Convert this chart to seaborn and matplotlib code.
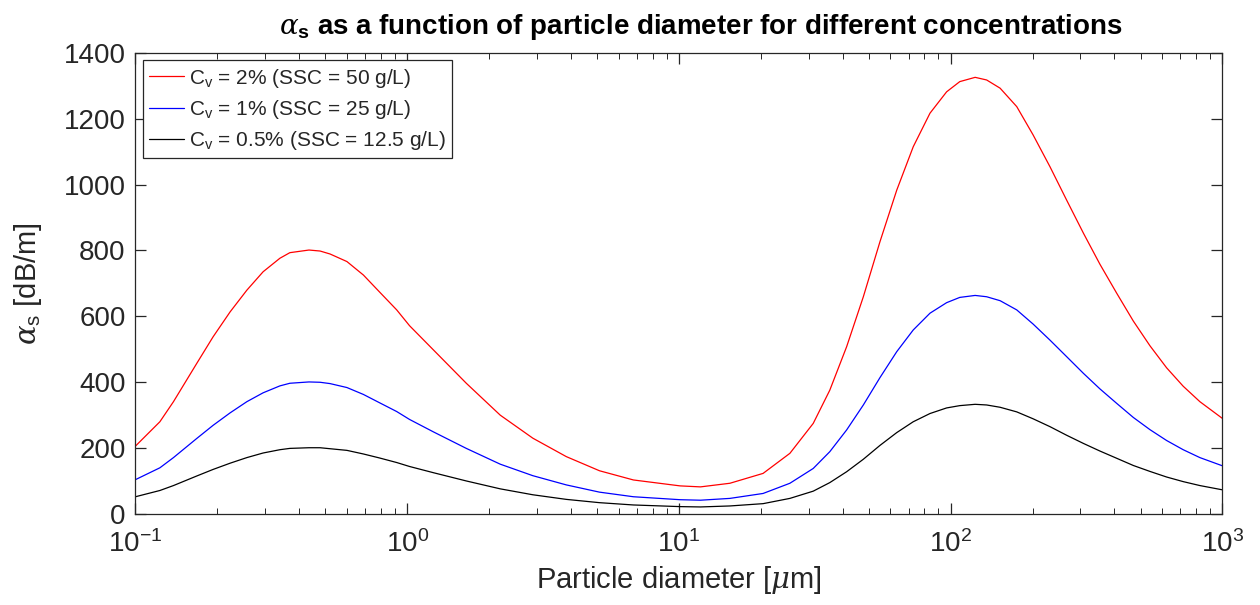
import numpy as np
import pandas as pd
import matplotlib
matplotlib.use("Agg")
import matplotlib.pyplot as plt
import seaborn as sns
from matplotlib.ticker import LogLocator, NullFormatter

# ---- data ----
diameter_um = [0.1, 0.123, 0.138, 0.168, 0.193, 0.223, 0.257, 0.295, 0.34, 0.37,
               0.435, 0.478, 0.52, 0.6, 0.69, 0.79, 0.915, 1.02, 1.25, 1.65,
               2.2, 2.9, 3.85, 5.1, 6.8, 10.1, 12.0, 15.4, 20.4, 25.6,
               31.2, 35.9, 41.4, 47.7, 54.9, 63.3, 72.8, 83.9, 96.6, 108,
               123, 135.6, 152, 175, 201, 232, 267, 308, 354, 408,
               470, 541, 623, 717, 826, 1000]
alpha_cv2 = [205, 279, 340, 456, 537, 613, 679, 735, 776, 793,
             801, 798, 789, 766, 725, 674, 619, 571, 497, 396,
             299, 229, 173, 130, 102, 84, 81, 92, 122, 183,
             274, 375, 507, 659, 826, 983, 1115, 1217, 1282, 1313,
             1326, 1318, 1293, 1237, 1151, 1054, 953, 852, 758, 670,
             585, 510, 443, 387, 340, 289]
alpha_cv1 = [103, 139, 170, 228, 268, 306, 340, 367, 388, 396,
             400, 399, 395, 383, 362, 337, 310, 286, 248, 198,
             150, 115, 87, 65, 51, 42, 40.5, 46, 61, 92,
             137, 188, 254, 330, 413, 492, 558, 609, 641, 657,
             663, 659, 647, 619, 576, 527, 477, 426, 379, 335,
             292, 255, 222, 194, 170, 145]
alpha_cv05 = [51, 70, 85, 114, 134, 153, 170, 184, 194, 198,
              200, 200, 197, 192, 181, 169, 155, 143, 124, 99,
              75, 57, 43, 33, 26, 21, 20, 23, 30, 46,
              68, 94, 127, 165, 207, 246, 279, 304, 321, 328,
              332, 330, 323, 309, 288, 264, 238, 213, 190, 168,
              146, 128, 111, 97, 85, 72]
labels = [r"C$_\mathrm{v}$ = 2% (SSC = 50 g/L)",
          r"C$_\mathrm{v}$ = 1% (SSC = 25 g/L)",
          r"C$_\mathrm{v}$ = 0.5% (SSC = 12.5 g/L)"]
colors = ["#ff0000", "#0000ff", "#000000"]

sns.set_theme(style="ticks")
plt.rcParams["font.family"] = ["Liberation Sans", "DejaVu Sans"]
plt.rcParams["mathtext.fontset"] = "custom"
plt.rcParams["mathtext.rm"] = "Liberation Sans"
plt.rcParams["mathtext.sf"] = "Liberation Sans"
plt.rcParams["mathtext.it"] = "DejaVu Serif:italic"
plt.rcParams["mathtext.bf"] = "Liberation Sans:bold"

fig = plt.figure(figsize=(12.6, 6.05), dpi=100)
ax = fig.add_axes([0.1075, 0.1512, 0.8627, 0.7612])

for vals, lab, col in zip([alpha_cv2, alpha_cv1, alpha_cv05], labels, colors):
    df = pd.DataFrame({"d": diameter_um, "a": vals})
    sns.lineplot(data=df, x="d", y="a", ax=ax, color=col, linewidth=0.9,
                 label=lab, estimator=None, sort=False)

ax.set_xscale("log")
ax.set_xlim(0.1, 1000)
ax.set_ylim(0, 1400)
ax.set_yticks(range(0, 1401, 200))
ax.xaxis.set_major_locator(LogLocator(base=10, numticks=10))
ax.xaxis.set_minor_locator(LogLocator(base=10, subs=np.arange(2, 10), numticks=20))
ax.xaxis.set_minor_formatter(NullFormatter())

edge = "#262626"
for s in ax.spines.values():
    s.set_color(edge)
    s.set_linewidth(0.9)
ax.tick_params(which="both", direction="in", top=True, right=True, color=edge,
               labelcolor="#262626")
ax.tick_params(which="major", length=8, width=0.9, labelsize=20)
ax.tick_params(axis="y", which="major", pad=7)
ax.tick_params(axis="x", which="major", pad=12)
ax.tick_params(which="minor", length=4.5, width=0.7)

ax.set_xlabel(r"Particle diameter [$\mu$m]", fontsize=21, color="#262626", labelpad=4)
ax.set_ylabel(r"$\alpha_\mathrm{s}$ [dB/m]", fontsize=21, color="#262626", labelpad=14)
ax.set_title(r"$\alpha_\mathbf{s}$ as a function of particle diameter for different concentrations",
             fontsize=20, fontweight="bold", color="#000000", pad=14, x=0.52)

leg = ax.legend(loc="upper left", fontsize=15, frameon=True, fancybox=False,
                handlelength=1.7, handletextpad=0.2, borderpad=0.3,
                labelspacing=0.4, borderaxespad=0.35)
leg.get_frame().set_edgecolor("#262626")
leg.get_frame().set_linewidth(0.9)
leg.get_frame().set_alpha(1)

fig.savefig("out.png", dpi=100)
